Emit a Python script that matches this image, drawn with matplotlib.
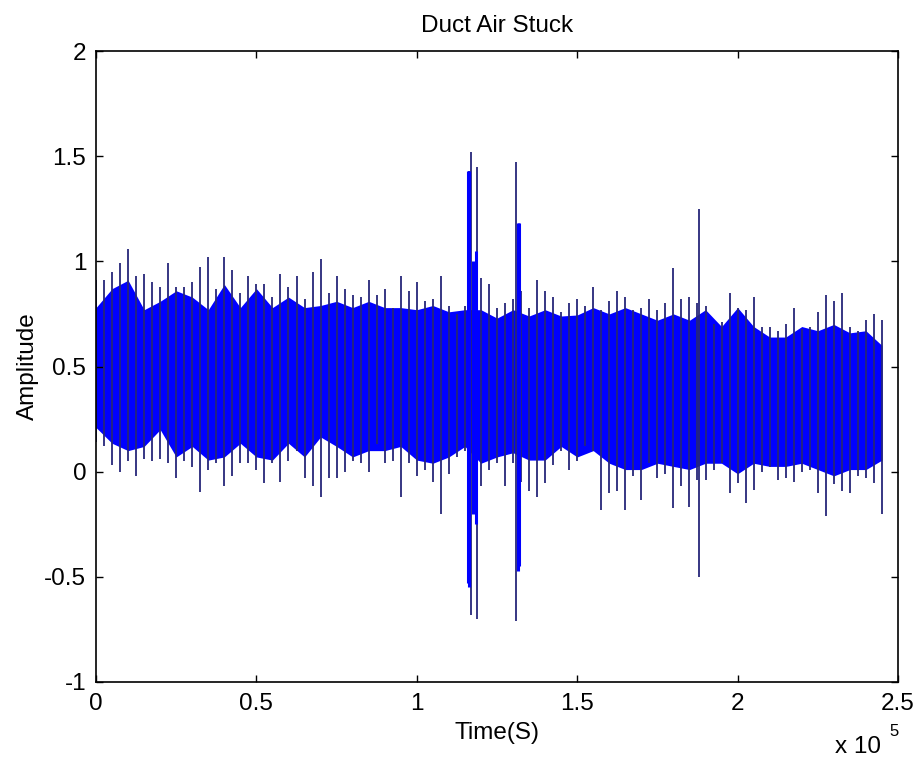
"""Duct Air Stuck - recorded amplitude against sample time (MATLAB style plot)
"""
import matplotlib
matplotlib.use('Agg')
import matplotlib.pyplot as plt
from matplotlib.ticker import FuncFormatter

plt.rcParams['font.family'] = ['Liberation Sans', 'DejaVu Sans']

###################################################################################################
# Data
###################################################################################################

# peak envelope every 2500 samples (top and bottom of the thin spikes)
peak_x = [i * 2500 for i in range(99)]
peak_high = [0.91, 0.91, 0.95, 0.99, 1.06, 0.93, 0.94, 0.90, 0.88, 0.99, 0.88, 0.88, 0.90,
             0.975, 1.02, 0.87, 1.02, 0.96, 0.85, 0.93, 0.89, 0.89, 0.83, 0.94, 0.88,
             0.93, 0.82, 0.95, 1.01, 0.85, 0.93, 0.87, 0.84, 0.83, 0.91, 0.84, 0.87,
             0.78, 0.93, 0.86, 0.90, 0.81, 0.82, 0.93, 0.79, 0.75, 0.79, 0.97, 0.92,
             0.89, 0.78, 0.80, 0.82, 0.86, 0.78, 0.91, 0.86, 0.83, 0.76, 0.80, 0.82,
             0.79, 0.88, 0.77, 0.81, 0.86, 0.83, 0.77, 0.78, 0.82, 0.77, 0.80, 0.97,
             0.82, 0.83, 0.80, 0.79, 0.70, 0.71, 0.85, 0.78, 0.77, 0.83, 0.69, 0.69,
             0.67, 0.70, 0.78, 0.68, 0.69, 0.76, 0.84, 0.81, 0.85, 0.69, 0.67, 0.72,
             0.75, 0.72]
peak_low = [0.14, 0.12, 0.03, 0.00, 0.05, -0.02, 0.06, 0.05, 0.06, 0.04, -0.03, 0.05, 0.02,
            -0.095, 0.01, 0.04, -0.07, -0.02, 0.04, 0.04, 0.01, -0.055, 0.04, -0.05, 0.05,
            0.10, -0.03, -0.07, -0.12, -0.03, -0.03, 0.00, 0.05, 0.04, 0.00, 0.13, 0.04,
            0.05, -0.12, 0.04, -0.02, 0.01, -0.05, -0.20, -0.01, 0.07, 0.10, -0.10, -0.07,
            0.01, 0.04, -0.07, 0.04, -0.05, -0.09, -0.12, -0.055, 0.03, 0.10, 0.01, 0.05,
            0.12, 0.10, -0.18, -0.10, -0.09, -0.18, -0.02, -0.135, 0.04, -0.03, -0.01, -0.175,
            -0.07, -0.166, -0.04, -0.04, 0.01, 0.04, -0.10, -0.055, -0.15, -0.087, 0.00, 0.02,
            -0.04, -0.03, -0.05, 0.00, 0.01, -0.10, -0.21, -0.06, -0.09, -0.10, -0.02, -0.03,
            -0.055, -0.20]

# solid body of the signal every 5000 samples
body_x = [i * 5000 for i in range(50)]
body_high = [0.78, 0.87, 0.91, 0.77, 0.81, 0.86, 0.83, 0.77, 0.89, 0.78, 0.87, 0.78, 0.83,
             0.78, 0.79, 0.81, 0.78, 0.81, 0.78, 0.78, 0.77, 0.79, 0.76, 0.77, 0.77,
             0.73, 0.77, 0.74, 0.77, 0.74, 0.745, 0.78, 0.75, 0.78, 0.75, 0.72, 0.75,
             0.72, 0.77, 0.69, 0.78, 0.69, 0.64, 0.64, 0.69, 0.67, 0.70, 0.66, 0.67, 0.60]
body_low = [0.21, 0.135, 0.10, 0.12, 0.20, 0.07, 0.12, 0.055, 0.07, 0.135, 0.07, 0.055, 0.135,
            0.07, 0.165, 0.12, 0.07, 0.10, 0.10, 0.12, 0.055, 0.04, 0.07, 0.12, 0.04,
            0.07, 0.09, 0.055, 0.055, 0.12, 0.07, 0.10, 0.04, 0.01, 0.01, 0.04, 0.025,
            0.01, 0.04, 0.04, -0.01, 0.04, 0.025, 0.025, 0.04, 0.01, -0.02, 0.01, 0.01, 0.055]

# isolated bursts
burst_x = [116300, 116800, 118900, 131000, 188000]
burst_high = [1.43, 1.52, 1.45, 1.47, 1.25]
burst_low = [-0.53, -0.68, -0.70, -0.71, -0.50]

# dense columns inside the bursts
dense_x = [116000, 116300, 117500, 118300, 131600, 131900]
dense_high = [1.43, 1.43, 1.00, 1.05, 1.18, 1.18]
dense_low = [-0.53, -0.55, -0.20, -0.25, -0.47, -0.45]


###################################################################################################
# Plot
###################################################################################################

def plot_signal() -> None:
    """Draw the signal the way MATLAB plotted it
    """
    fig = plt.figure(figsize=(9.18, 7.6), dpi=100)
    ax = fig.add_axes([96 / 918, 78 / 760, 802 / 918, 631 / 760])

    spike = '#26267a'
    blue = '#0000ff'
    ax.vlines(peak_x, peak_low, peak_high, color=spike, lw=1.3)
    ax.vlines(burst_x, burst_low, burst_high, color=spike, lw=1.3)
    ax.fill_between(body_x, body_low, body_high, color=blue, lw=0)
    ax.vlines(dense_x, dense_low, dense_high, color=blue, lw=2.2)

    ax.set_xlim(0, 250000)
    ax.set_ylim(-1, 2)
    ax.set_xticks([0, 50000, 100000, 150000, 200000, 250000])
    ax.set_yticks([-1, -0.5, 0, 0.5, 1, 1.5, 2])
    ax.xaxis.set_major_formatter(FuncFormatter(lambda v, p: '%g' % (v / 1e5)))
    ax.yaxis.set_major_formatter(FuncFormatter(lambda v, p: '%g' % v))
    ax.tick_params(direction='in', length=5, width=1, top=True, right=True,
                   labelsize=17.5, colors='black')
    ax.tick_params(axis='x', pad=8)
    ax.tick_params(axis='y', pad=7)
    for s in ax.spines.values():
        s.set_linewidth(1.2)

    ax.set_title('Duct Air Stuck', fontsize=17.5, pad=14)
    ax.set_xlabel('Time(S)', fontsize=17.5, labelpad=5)
    ax.set_ylabel('Amplitude', fontsize=17.5, labelpad=4)

    fig.text(835 / 918, 1 - 747 / 760, 'x 10', fontsize=17.5, ha='left', va='center')
    fig.text(889 / 918, 1 - 731 / 760, '5', fontsize=12, ha='left', va='center')

    fig.savefig('out.png', dpi=100, facecolor='white')


if __name__ == '__main__':
    plot_signal()
